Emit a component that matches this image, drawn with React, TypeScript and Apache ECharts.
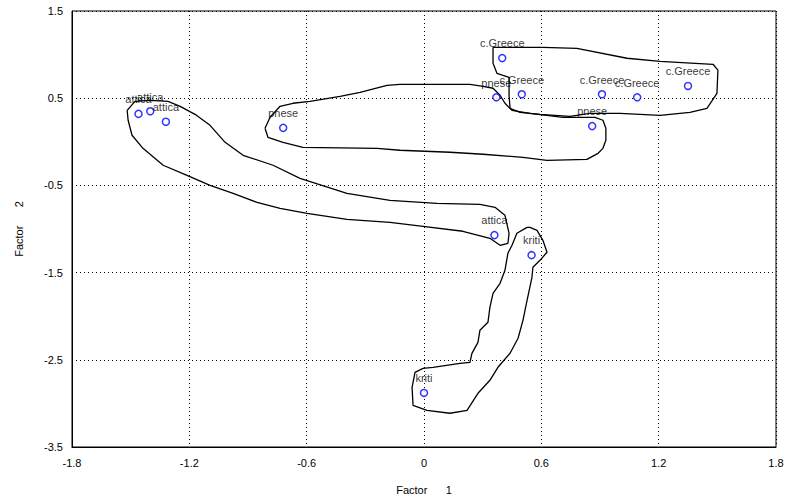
import React, { useEffect, useRef } from "react";
import * as echarts from "echarts";

// Observation groups and their factor scores
const regions = [
  "c.Greece", "c.Greece", "pnese", "c.Greece", "c.Greece", "c.Greece", "pnese",
  "pnese", "attica", "attica", "attica", "attica", "kriti", "kriti",
];
const factor1 = [0.40, 0.50, 0.37, 0.91, 1.09, 1.35, 0.86, -0.72, -1.46, -1.40, -1.32, 0.36, 0.55, 0.00];
const factor2 = [0.96, 0.545, 0.51, 0.545, 0.51, 0.64, 0.18, 0.16, 0.32, 0.35, 0.23, -1.07, -1.30, -2.88];

// Hand-drawn group outlines, in factor-score units
const outlineCGreece: number[][] = [
  [0.353, 1.084], [0.608, 1.084], [0.782, 1.072], [1.038, 0.958], [1.207, 0.923], [1.478, 0.889],
  [1.503, 0.821], [1.498, 0.556], [1.447, 0.384], [1.36, 0.338], [1.207, 0.304], [1.002, 0.327],
  [0.849, 0.327], [0.746, 0.292], [0.593, 0.315], [0.491, 0.338], [0.44, 0.384], [0.435, 0.533],
  [0.435, 0.74], [0.373, 0.786], [0.353, 0.9], [0.353, 1.084],
];
const outlinePnese: number[][] = [
  [-0.813, 0.155], [-0.787, 0.281], [-0.736, 0.407], [-0.67, 0.442], [-0.583, 0.464], [-0.429, 0.522],
  [-0.327, 0.568], [-0.189, 0.648], [-0.123, 0.659], [0.235, 0.659], [0.302, 0.636], [0.353, 0.614],
  [0.389, 0.533], [0.414, 0.442], [0.45, 0.361], [0.542, 0.327], [0.711, 0.281], [0.874, 0.281],
  [0.915, 0.247], [0.93, 0.155], [0.93, 0.017], [0.915, -0.075], [0.89, -0.132], [0.833, -0.201],
  [0.629, -0.212], [0.506, -0.178], [0.302, -0.143], [0.133, -0.12], [-0.123, -0.097], [-0.24, -0.075],
  [-0.619, -0.063], [-0.721, -0.006], [-0.798, 0.052], [-0.813, 0.155],
];
const outlineAttica: number[][] = [
  [-1.518, 0.361], [-1.478, 0.464], [-1.401, 0.476], [-1.309, 0.464], [-1.247, 0.407], [-1.171, 0.315],
  [-1.094, 0.189], [-1.017, -0.006], [-0.925, -0.155], [-0.772, -0.269], [-0.634, -0.419], [-0.394, -0.591],
  [-0.174, -0.671], [0.066, -0.705], [0.286, -0.717], [0.363, -0.751], [0.414, -0.843], [0.435, -1.049],
  [0.429, -1.164], [0.389, -1.187], [0.337, -1.107], [0.199, -1.026], [-0.005, -0.969], [-0.174, -0.923],
  [-0.394, -0.889], [-0.598, -0.82], [-0.736, -0.763], [-0.854, -0.694], [-0.976, -0.591], [-1.094, -0.499],
  [-1.212, -0.384], [-1.334, -0.269], [-1.437, -0.075], [-1.493, 0.075], [-1.513, 0.247], [-1.518, 0.361],
];
const outlineKriti: number[][] = [
  [0.527, -0.981], [0.475, -1.049], [0.45, -1.187], [0.429, -1.279], [0.414, -1.474], [0.389, -1.623],
  [0.353, -1.737], [0.337, -1.898], [0.327, -2.07], [0.286, -2.162], [0.276, -2.3], [0.245, -2.426],
  [0.235, -2.529], [0.184, -2.54], [0.046, -2.586], [-0.005, -2.598], [-0.046, -2.644], [-0.061, -2.816],
  [-0.056, -3.022], [0.015, -3.079], [0.133, -3.113], [0.22, -3.079], [0.276, -2.884], [0.337, -2.735],
  [0.378, -2.586], [0.44, -2.425], [0.481, -2.253], [0.506, -2.047], [0.527, -1.818], [0.552, -1.554],
  [0.557, -1.439], [0.593, -1.359], [0.629, -1.267], [0.608, -1.13], [0.578, -1.015], [0.542, -0.981],
  [0.527, -0.981],
];

const xName = "Factor      1";
const yName = "Factor      2";

export default function App() {
  const ref = useRef<HTMLDivElement>(null);
  useEffect(() => {
    document.body.style.margin = "0";
    if (!ref.current) return;
    const chart = echarts.init(ref.current, undefined, { renderer: "svg" });
    const font = "'Liberation Sans', Arial, sans-serif";
    const outlineSeries = [outlineCGreece, outlinePnese, outlineAttica, outlineKriti].map((o, i) => ({
      type: "line" as const,
      name: "outline" + i,
      data: o,
      showSymbol: false,
      symbol: "none",
      lineStyle: { color: "#000", width: 1.3 },
      z: 3,
      silent: true,
    }));
    chart.setOption({
      animation: false,
      backgroundColor: "#fff",
      grid: {
        left: 72, right: 11, top: 11, bottom: 57,
        show: true, borderColor: "#000", borderWidth: 1,
      },
      xAxis: {
        type: "value",
        min: -1.8, max: 1.8, interval: 0.6,
        name: xName, nameLocation: "middle", nameGap: 37,
        nameTextStyle: { fontFamily: font, fontSize: 11, color: "#000" },
        axisLine: { show: true, onZero: false, lineStyle: { color: "#000", width: 1 } },
        axisTick: { show: false },
        axisLabel: {
          fontFamily: font, fontSize: 11, color: "#000", margin: 10,
          formatter: (v: number) => String(Math.round(v * 10) / 10),
        },
        splitLine: { show: true, lineStyle: { color: "#000", type: [1, 3], width: 1 } },
      },
      yAxis: {
        type: "value",
        min: -3.5, max: 1.5, interval: 1,
        name: yName, nameLocation: "middle", nameGap: 48, nameRotate: 90,
        nameTextStyle: { fontFamily: font, fontSize: 11, color: "#000" },
        axisLine: { show: true, onZero: false, lineStyle: { color: "#000", width: 1 } },
        axisTick: { show: false },
        axisLabel: {
          fontFamily: font, fontSize: 11, color: "#000", margin: 9,
          formatter: (v: number) => String(Math.round(v * 10) / 10),
        },
        splitLine: { show: true, lineStyle: { color: "#000", type: [1, 3], width: 1 } },
      },
      series: [
        ...outlineSeries,
        {
          type: "scatter",
          name: "scores",
          data: factor1.map((x, i) => ({ value: [x, factor2[i]], name: regions[i] })),
          symbol: "circle",
          symbolSize: 7,
          itemStyle: { color: "#fff", borderColor: "#0000ff", borderWidth: 1.5 },
          label: {
            show: true, position: "top", distance: 5,
            formatter: (p: any) => p.name,
            fontFamily: font, fontSize: 11, color: "#000",
          },
          labelLayout: { hideOverlap: false },
          z: 5,
        },
      ],
    });
    return () => chart.dispose();
  }, []);
  return <div ref={ref} style={{ width: 787, height: 504 }} />;
}
